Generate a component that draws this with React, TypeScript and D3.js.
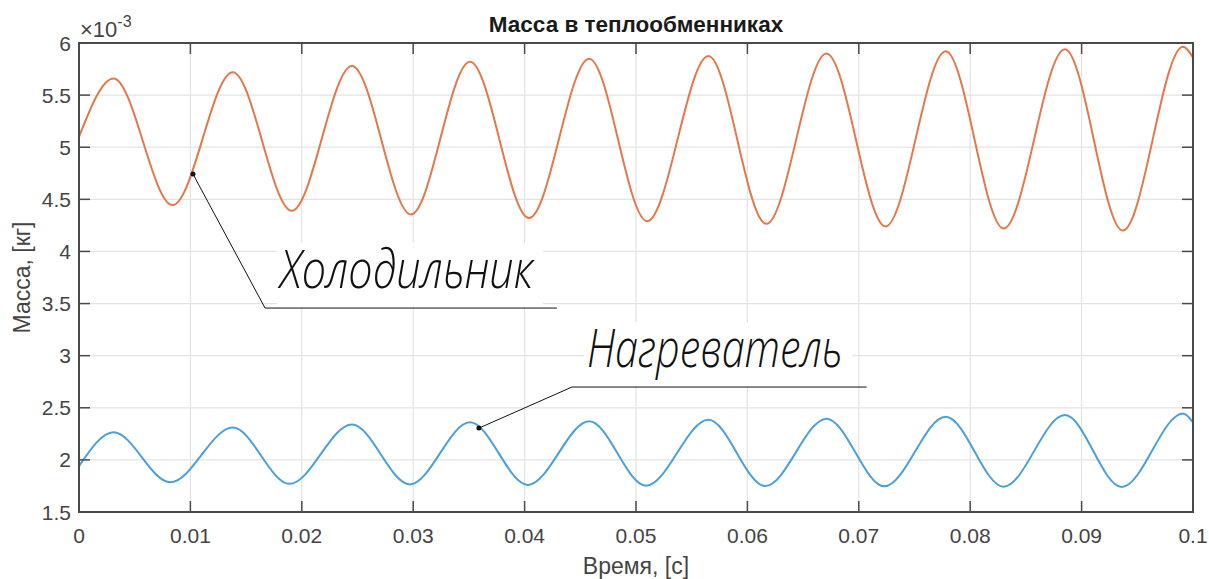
import React from 'react';
import * as d3 from 'd3';

// ---- data (mass values in units of 10^-3 kg) ----
const X_TICKS = [0, 0.01, 0.02, 0.03, 0.04, 0.05, 0.06, 0.07, 0.08, 0.09, 0.1];
const X_TICK_LABELS = ['0', '0.01', '0.02', '0.03', '0.04', '0.05', '0.06', '0.07', '0.08', '0.09', '0.1'];
const Y_TICKS = [1.5, 2, 2.5, 3, 3.5, 4, 4.5, 5, 5.5, 6];
const Y_TICK_LABELS = ['1.5', '2', '2.5', '3', '3.5', '4', '4.5', '5', '5.5', '6'];

// Холодильник (cold side) — read at peaks/troughs
const coldTime = [0, 0.0031, 0.0084, 0.0138, 0.0191, 0.0245, 0.0298, 0.0351, 0.0404, 0.0458, 0.051, 0.0565, 0.0617, 0.0671, 0.0724, 0.0778, 0.083, 0.0885, 0.0937, 0.0991, 0.1];
const coldMass = [5.10, 5.66, 4.445, 5.72, 4.39, 5.78, 4.355, 5.82, 4.32, 5.85, 4.29, 5.875, 4.265, 5.90, 4.24, 5.92, 4.22, 5.94, 4.20, 5.965, 5.86];

// Нагреватель (hot side)
const hotTime = [0, 0.0031, 0.0082, 0.0138, 0.0189, 0.0245, 0.0297, 0.0351, 0.0403, 0.0458, 0.0509, 0.0565, 0.0616, 0.0671, 0.0723, 0.0778, 0.083, 0.0885, 0.0936, 0.0991, 0.1];
const hotMass = [1.94, 2.265, 1.785, 2.31, 1.77, 2.34, 1.765, 2.36, 1.76, 2.37, 1.752, 2.385, 1.749, 2.395, 1.746, 2.415, 1.743, 2.43, 1.74, 2.445, 2.36];

const TITLE = 'Масса в теплообменниках';
const X_LABEL = 'Время, [с]';
const Y_LABEL = 'Масса, [кг]';
const COLD_LABEL = 'Холодильник';
const HOT_LABEL = 'Нагреватель';

// leader lines in data coords: tip, elbow, end
const coldLeader: [number, number][] = [[0.01023, 4.743], [0.0167, 3.457], [0.0429, 3.457]];
const hotLeader: [number, number][] = [[0.0359, 2.305], [0.04425, 2.699], [0.0707, 2.699]];

const COLD_COLOR = '#e4784a';
const HOT_COLOR = '#4aa0da';
const AXIS_COLOR = '#4a4a4a';
const GRID_COLOR = '#e3e3e3';
const TEXT_COLOR = '#444444';

export default function App() {
  const W = 1209, H = 579;
  const L = 79, R = 1193, T = 43, B = 512;
  const x = d3.scaleLinear().domain([0, 0.1]).range([L, R]);
  const y = d3.scaleLinear().domain([1.5, 6]).range([B, T]);
  const line = d3.line<[number, number]>().x(d => x(d[0])).y(d => y(d[1])).curve(d3.curveMonotoneX);
  const cold = coldTime.map((t, i) => [t, coldMass[i]] as [number, number]);
  const hot = hotTime.map((t, i) => [t, hotMass[i]] as [number, number]);
  const leaderLine = d3.line<[number, number]>().x(d => x(d[0])).y(d => y(d[1]));
  const tick = 11;
  const font = "'Liberation Sans', Arial, Helvetica, sans-serif";

  const annotation = (pts: [number, number][], label: string) => {
    const ex = x(pts[1][0]), ey = y(pts[1][1]), endX = x(pts[2][0]);
    return (
      <g>
        <rect x={ex + 12} y={ey - 65} width={endX - ex - 26} height={64} fill="#ffffff" />
        <path d={leaderLine(pts) || ''} fill="none" stroke="#111" strokeWidth={1} />
        <circle cx={x(pts[0][0])} cy={y(pts[0][1])} r={2.5} fill="#111" />
        <text
          x={ex + 15}
          y={ey - 20}
          fontFamily="'Open Sans', Roboto, 'DejaVu Sans', sans-serif"
          fontStyle="italic"
          fontWeight={300}
          fontSize={54}
          textLength={endX - ex - 39}
          lengthAdjust="spacingAndGlyphs"
          fill="#111"
        >{label}</text>
      </g>
    );
  };

  return (
    <svg width={W} height={H} style={{ position: 'fixed', left: 0, top: 0, background: '#fff' }}>
      <defs>
        <clipPath id="plotClip"><rect x={L} y={T} width={R - L} height={B - T} /></clipPath>
      </defs>
      <rect x={0} y={0} width={W} height={H} fill="#fff" />
      {/* grid */}
      {X_TICKS.map((v, i) => (
        <line key={'gx' + i} x1={x(v)} x2={x(v)} y1={T} y2={B} stroke={GRID_COLOR} strokeWidth={1.2} />
      ))}
      {Y_TICKS.map((v, i) => (
        <line key={'gy' + i} x1={L} x2={R} y1={y(v)} y2={y(v)} stroke={GRID_COLOR} strokeWidth={1.2} />
      ))}
      {/* series */}
      <g clipPath="url(#plotClip)">
        <path d={line(cold) || ''} fill="none" stroke={COLD_COLOR} strokeWidth={2} />
        <path d={line(hot) || ''} fill="none" stroke={HOT_COLOR} strokeWidth={2} />
      </g>
      {/* annotations */}
      {annotation(coldLeader, COLD_LABEL)}
      {annotation(hotLeader, HOT_LABEL)}
      {/* axes box and ticks */}
      <rect x={L} y={T} width={R - L} height={B - T} fill="none" stroke={AXIS_COLOR} strokeWidth={2} />
      {X_TICKS.map((v, i) => (
        <g key={'tx' + i}>
          <line x1={x(v)} x2={x(v)} y1={B} y2={B - tick} stroke={AXIS_COLOR} strokeWidth={1.5} />
          <line x1={x(v)} x2={x(v)} y1={T} y2={T + tick} stroke={AXIS_COLOR} strokeWidth={1.5} />
          <text x={x(v)} y={B + 31} textAnchor="middle" fontFamily={font} fontSize={21} fill={TEXT_COLOR}>{X_TICK_LABELS[i]}</text>
        </g>
      ))}
      {Y_TICKS.map((v, i) => (
        <g key={'ty' + i}>
          <line x1={L} x2={L + tick} y1={y(v)} y2={y(v)} stroke={AXIS_COLOR} strokeWidth={1.5} />
          <line x1={R} x2={R - tick} y1={y(v)} y2={y(v)} stroke={AXIS_COLOR} strokeWidth={1.5} />
          <text x={71} y={y(v) + 7.5} textAnchor="end" fontFamily={font} fontSize={21} fill={TEXT_COLOR}>{Y_TICK_LABELS[i]}</text>
        </g>
      ))}
      {/* exponent */}
      <text x={80} y={37} fontFamily={font} fontSize={22} fill={TEXT_COLOR}>
        ×10<tspan dy={-10} fontSize={16}>-3</tspan>
      </text>
      {/* title and labels */}
      <text x={(L + R) / 2} y={32} textAnchor="middle" fontFamily={font} fontSize={22.5} fontWeight="bold" fill="#1a1a1a">{TITLE}</text>
      <text x={(L + R) / 2} y={574} textAnchor="middle" fontFamily={font} fontSize={23} fill={TEXT_COLOR}>{X_LABEL}</text>
      <text transform={`translate(30,${(T + B) / 2}) rotate(-90)`} textAnchor="middle" fontFamily={font} fontSize={23} fill={TEXT_COLOR}>{Y_LABEL}</text>
    </svg>
  );
}
